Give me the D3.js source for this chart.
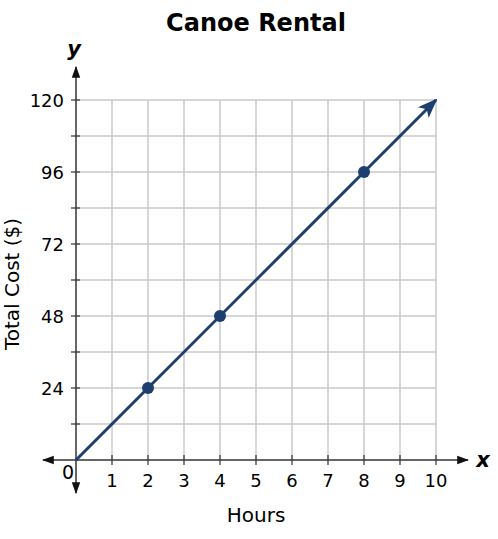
<!doctype html>
<html>
  <head>
    <script src="https://cdnjs.cloudflare.com/ajax/libs/d3/7.8.5/d3.min.js"></script>
    <style>
      body { margin: 0; background: #fff; }
      text { font-family: "DejaVu Sans", Verdana, sans-serif; fill: #000; }
      line.grid { stroke: #c8c8c8; stroke-width: 1.5; }
      line.axis { stroke: #333; stroke-width: 1.5; }
      line.tick { stroke: #333; stroke-width: 1.2; }
      path.graph { fill: none; stroke: #1d3f6e; stroke-width: 3; }
      circle.pt { fill: #1d3f6e; }
    </style>
  </head>
  <body>
    <svg width="498" height="539"></svg>
    <script>
      var xTicks = [1, 2, 3, 4, 5, 6, 7, 8, 9, 10];
      var yTicks = [24, 48, 72, 96, 120];
      var yMinor = [12, 36, 60, 84, 108];
      var lineHours = [0, 10];
      var lineCost = [0, 120];
      var pointHours = [2, 4, 8];
      var pointCost = [24, 48, 96];

      var svg = d3.select("svg");

      var x = d3.scaleLinear().domain([0, 10]).range([76, 436]);
      var y = d3.scaleLinear().domain([0, 120]).range([460, 100]);

      var defs = svg.append("defs");
      defs.append("marker")
          .attr("id", "blk")
          .attr("viewBox", "0 0 10 10")
          .attr("refX", 9).attr("refY", 5)
          .attr("markerWidth", 12).attr("markerHeight", 12)
          .attr("markerUnits", "userSpaceOnUse")
          .attr("orient", "auto-start-reverse")
        .append("path")
          .attr("d", "M0,1.5 L10,5 L0,8.5 Z")
          .attr("fill", "#111");
      defs.append("marker")
          .attr("id", "blue")
          .attr("viewBox", "0 0 10 10")
          .attr("refX", 9).attr("refY", 5)
          .attr("markerWidth", 20).attr("markerHeight", 20)
          .attr("markerUnits", "userSpaceOnUse")
          .attr("orient", "auto")
        .append("path")
          .attr("d", "M0,1.2 L10,5 L0,8.8 L2.5,5 Z")
          .attr("fill", "#1d3f6e");

      // grid
      svg.selectAll("line.vgrid").data(xTicks)
        .enter().append("line")
          .attr("class", "grid")
          .attr("x1", d => x(d)).attr("x2", d => x(d))
          .attr("y1", y(0)).attr("y2", y(120));
      svg.selectAll("line.hgrid").data(yTicks.concat(yMinor))
        .enter().append("line")
          .attr("class", "grid")
          .attr("x1", x(0)).attr("x2", x(10))
          .attr("y1", d => y(d)).attr("y2", d => y(d));

      // axes with arrows
      svg.append("line").attr("class", "axis")
          .attr("x1", 43).attr("x2", 468)
          .attr("y1", y(0)).attr("y2", y(0))
          .attr("marker-start", "url(#blk)")
          .attr("marker-end", "url(#blk)");
      svg.append("line").attr("class", "axis")
          .attr("x1", x(0)).attr("x2", x(0))
          .attr("y1", 493).attr("y2", 67)
          .attr("marker-start", "url(#blk)")
          .attr("marker-end", "url(#blk)");

      // ticks
      svg.selectAll("line.xt").data(xTicks)
        .enter().append("line")
          .attr("class", "tick")
          .attr("x1", d => x(d)).attr("x2", d => x(d))
          .attr("y1", y(0) - 5).attr("y2", y(0) + 5);
      svg.selectAll("line.yt").data(yTicks.concat(yMinor))
        .enter().append("line")
          .attr("class", "tick")
          .attr("x1", x(0) - 5).attr("x2", x(0) + 4)
          .attr("y1", d => y(d)).attr("y2", d => y(d));

      // tick labels
      svg.selectAll("text.xl").data(xTicks)
        .enter().append("text")
          .attr("x", d => x(d)).attr("y", 487)
          .attr("text-anchor", "middle")
          .style("font-size", "18px")
          .text(d => d);
      svg.selectAll("text.yl").data(yTicks)
        .enter().append("text")
          .attr("x", 64).attr("y", d => y(d) + 7)
          .attr("text-anchor", "end")
          .style("font-size", "18px")
          .text(d => d);
      svg.append("text")
          .attr("x", 68).attr("y", 479)
          .attr("text-anchor", "middle")
          .style("font-size", "19px")
          .text("0");

      // line and points
      var line = d3.line().x(d => x(d[0])).y(d => y(d[1]));
      svg.append("path")
          .datum(d3.zip(lineHours, lineCost))
          .attr("class", "graph")
          .attr("d", line)
          .attr("marker-end", "url(#blue)");
      svg.selectAll("circle.pt").data(d3.zip(pointHours, pointCost))
        .enter().append("circle")
          .attr("class", "pt")
          .attr("cx", d => x(d[0])).attr("cy", d => y(d[1]))
          .attr("r", 6);

      // titles
      svg.append("text")
          .attr("x", 256).attr("y", 31)
          .attr("text-anchor", "middle")
          .style("font-size", "24px").style("font-weight", "bold")
          .text("Canoe Rental");
      svg.append("text")
          .attr("x", 74).attr("y", 56)
          .attr("text-anchor", "middle")
          .style("font-size", "21px").style("font-weight", "bold").style("font-style", "italic")
          .text("y");
      svg.append("text")
          .attr("x", 483).attr("y", 467)
          .attr("text-anchor", "middle")
          .style("font-size", "21px").style("font-weight", "bold").style("font-style", "italic")
          .text("x");
      svg.append("text")
          .attr("x", 256).attr("y", 522)
          .attr("text-anchor", "middle")
          .style("font-size", "20px")
          .text("Hours");
      svg.append("text")
          .attr("transform", "translate(19,284) rotate(-90)")
          .attr("text-anchor", "middle")
          .style("font-size", "20px")
          .text("Total Cost ($)");
    </script>
  </body>
</html>
